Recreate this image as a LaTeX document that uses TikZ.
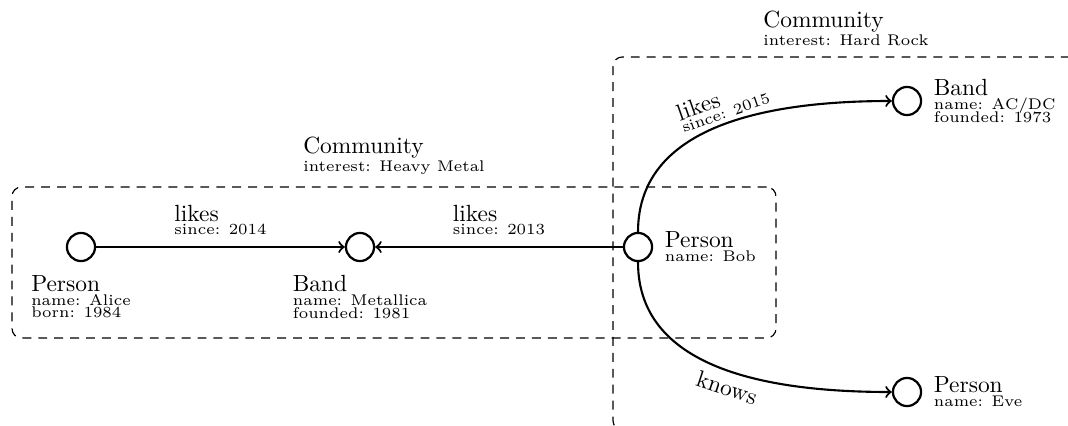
\documentclass[tikz,border=0pt]{standalone}
\usetikzlibrary{positioning}
% small type for the attribute lines (Latin Modern, 6pt design, enlarged)
\font\attrfnt="[lmroman6-regular.otf]" at 6.6pt
\newcommand\attrsize{\attrfnt}
\begin{document}
\begin{tikzpicture}[x=0.427pt, y=0.427pt,
  entity/.style={circle, draw, line width=0.95pt, minimum size=12pt, inner sep=0pt},
  rel/.style={->, line width=0.9pt},
  community/.style={draw, line width=0.5pt, dash pattern=on 3.8pt off 3pt, rounded corners=4pt, inner sep=0pt},
  tag/.style={align=left, inner sep=0pt,
    font={\normalsize\lineskiplimit=-\maxdimen\baselineskip=5.4pt}},
]
\useasboundingbox (0,0) rectangle (1068,425);
\clip (0,0) rectangle (1068,425);

% community groupings
\node[community, minimum width=326.2pt, minimum height=64.5pt] (hm) at (394,162.5) {};
\node[community, minimum width=199pt, minimum height=159.3pt] (hr) at (846,181.5) {};
\node[tag, above=4.7pt of hm] (hmtag) {Community\\[2.3pt]\attrsize interest: Heavy Metal};
\node[tag, above=4.5pt of hr] (hrtag) {Community\\[2.3pt]\attrsize interest: Hard Rock};

% entities
\node[entity] (alice) at (81,178) {};
\node[entity] (metallica) at (360,178) {};
\node[entity] (bob) at (638,178) {};
\node[entity] (acdc) at (907,324) {};
\node[entity] (eve) at (907,33) {};

\node[tag, below=5.3pt of alice] (alicetag) {Person\\[0.6pt]\attrsize name: Alice\\\attrsize born: 1984};
\node[tag, below=5.3pt of metallica] (metallicatag) {Band\\[0.6pt]\attrsize name: Metallica\\\attrsize founded: 1981};
\node[tag, right=4.8pt of bob] (bobtag) {Person\\[0.6pt]\attrsize name: Bob};
\node[tag, right=4.8pt of acdc] (acdctag) {Band\\[0.6pt]\attrsize name: AC/DC\\\attrsize founded: 1973};
\node[tag, right=4.8pt of eve] (evetag) {Person\\[0.6pt]\attrsize name: Eve};

% relationships
\draw[rel] (alice) -- node[tag, above=4.7pt] {likes\\\attrsize since: 2014} (metallica);
\draw[rel] (bob) -- node[tag, above=4.7pt] {likes\\\attrsize since: 2013} (metallica);
\draw[rel] (bob) to[out=90, in=180] node[tag, sloped, above=1.5pt, pos=0.52] {likes\\\attrsize since: 2015} (acdc);
\draw[rel] (bob) to[out=-90, in=180] node[tag, sloped, below=3pt, pos=0.53] {knows} (eve);
\end{tikzpicture}
\end{document}
